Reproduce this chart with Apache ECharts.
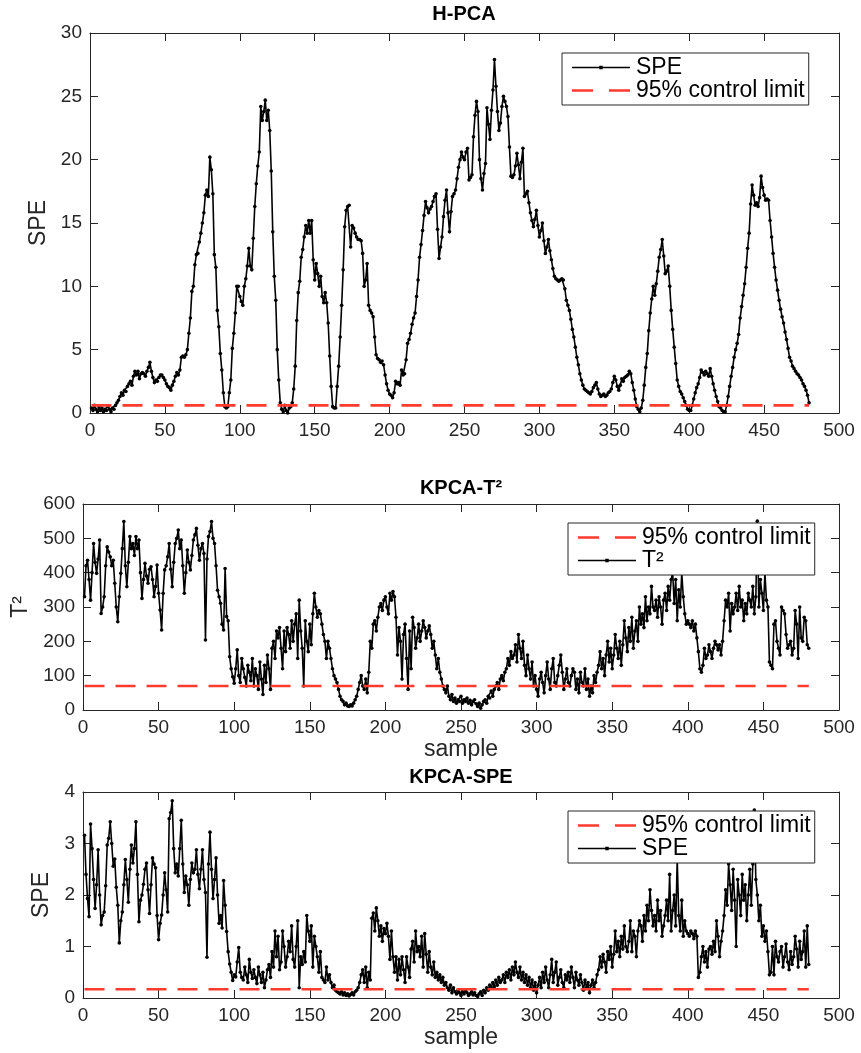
<!DOCTYPE html>
<html><head><meta charset="utf-8">
<script src="https://cdn.jsdelivr.net/npm/echarts@6/dist/echarts.min.js"></script>
<style>html,body{margin:0;padding:0;background:#fff}#c{width:861px;height:1053px}</style>
</head><body><div id="c"></div>
<script>
// H-PCA SPE, samples 1..480
const hpcaSPE = [
0.4,0.2,0.6,0.3,0.1,0.5,0.2,0.4,0.1,0.3,0.2,0.5,0.3,0.1,0.4,0.3,0.6,0.8,1.0,1.3,
1.6,1.4,1.8,1.7,2.1,2.3,2.5,2.2,2.9,3.3,3.0,3.3,2.7,3.1,3.2,3.1,2.9,3.3,3.6,4.0,
3.3,2.8,2.4,2.6,2.5,2.8,3.0,3.0,2.8,2.6,2.3,2.1,2.0,1.8,2.2,2.5,2.9,3.2,3.0,3.4,
4.4,4.5,4.4,4.6,5.0,6.3,7.5,9.6,10.0,11.7,12.5,12.6,13.5,14.2,15.0,15.8,17.2,17.6,17.1,20.2,
19.2,17.3,12.5,11.5,8.1,6.8,4.7,3.4,1.6,0.5,0.4,0.5,1.6,2.6,5.1,6.3,7.9,10.0,10.0,9.2,
8.8,8.5,10.0,10.6,11.6,13.0,11.6,11.3,13.8,16.3,18.1,19.5,20.6,24.2,23.1,23.8,24.7,23.1,23.9,22.3,
19.1,14.3,10.8,8.9,5.0,2.6,0.8,0.3,0.1,0.6,0.2,0.0,0.4,0.5,0.8,1.9,3.7,7.3,9.5,10.4,
12.3,12.9,13.9,14.8,14.2,15.2,14.2,15.2,12.1,10.5,11.8,11.0,10.0,10.8,9.2,8.7,9.5,8.7,7.1,4.5,
2.1,0.5,0.4,0.4,2.1,3.7,6.0,8.5,11.3,14.7,16.0,16.3,16.4,13.1,14.8,14.6,14.2,13.9,13.7,13.7,
13.6,12.6,10.0,10.5,11.8,8.5,8.1,7.9,7.6,6.0,4.6,4.3,4.2,4.0,4.1,3.8,3.0,2.3,1.8,1.5,
1.4,1.2,1.6,2.5,2.3,2.4,2.2,3.4,3.0,3.1,4.2,5.5,5.8,6.3,7.0,7.5,7.9,9.2,10.5,12.3,
13.3,14.4,15.6,16.7,16.2,15.8,16.1,16.3,16.7,17.1,17.3,14.5,12.2,13.1,13.9,15.5,16.8,17.6,15.8,14.3,
15.9,17.1,17.3,17.6,18.5,19.4,20.0,20.6,20.2,20.0,20.6,20.9,18.4,18.6,18.8,21.8,23.5,24.6,23.8,20.0,
18.5,17.6,18.9,19.7,24.1,22.8,21.6,23.9,25.5,27.9,25.8,23.8,22.3,22.9,24.2,25.0,24.6,24.2,23.4,21.0,
18.7,18.6,18.8,19.5,20.5,19.6,18.5,19.8,20.9,17.1,17.3,17.5,16.6,15.8,15.2,14.7,15.3,16.0,14.8,13.9,
14.4,15.0,13.6,12.6,13.1,13.7,12.8,12.1,11.4,10.8,10.6,10.5,10.4,10.5,10.6,10.5,9.8,8.9,8.5,8.1,
7.4,6.6,6.0,5.2,4.4,3.8,3.1,2.6,2.2,1.9,1.8,1.7,1.6,1.5,1.7,2.0,2.2,2.4,1.9,1.5,
1.3,1.4,1.5,1.3,1.4,1.6,1.7,1.9,2.4,2.9,2.6,2.1,1.8,2.2,2.7,2.5,2.8,2.9,3.0,3.3,
3.1,2.4,1.8,1.1,0.5,0.3,0.1,0.4,1.0,2.2,3.6,4.7,6.5,7.9,9.0,10.0,9.3,10.2,11.2,12.3,
12.9,13.7,12.4,11.0,11.2,11.6,10.0,8.1,6.6,5.2,3.9,2.6,2.1,1.7,1.5,1.2,0.9,0.6,0.3,0.2,
0.2,0.6,1.1,1.6,2.0,2.3,2.8,3.4,3.2,3.0,3.3,3.1,2.9,3.5,2.9,2.3,1.8,1.3,0.9,0.5,
0.4,0.2,0.1,0.1,0.6,1.3,2.1,2.9,3.6,4.4,5.0,5.5,6.2,7.5,8.4,9.3,10.2,11.5,13.0,14.2,
16.5,18.0,17.2,16.4,16.6,16.3,17.0,18.7,17.8,17.2,16.8,16.9,16.8,15.2,13.9,12.6,11.5,10.5,9.7,8.9,
8.2,7.6,7.1,6.4,5.8,5.1,4.4,4.1,3.7,3.5,3.3,3.1,3.0,2.8,2.6,2.3,2.1,1.8,1.4,0.8
];
// KPCA T^2, samples 1..480
const kpcaT2 = [
330,420,436,380,320,400,485,430,398,440,495,281,300,330,420,475,460,446,420,436,
369,300,257,330,398,470,549,420,359,430,505,470,485,450,505,470,495,400,325,380,
427,390,369,410,417,380,330,360,422,340,291,233,340,408,420,446,485,410,359,430,
485,500,524,470,495,420,340,400,466,430,408,450,495,510,529,480,436,470,485,456,
204,440,505,520,549,500,485,420,349,330,311,250,233,412,272,260,155,120,97,78,
120,175,100,80,150,120,95,70,130,110,85,150,70,120,100,60,140,90,45,130,
80,160,120,60,180,200,150,230,210,240,180,120,230,170,240,220,180,260,200,250,
280,150,320,230,180,70,260,200,170,250,190,280,340,300,270,290,280,250,220,200,
150,200,180,150,120,100,90,80,60,40,30,25,15,20,12,10,15,12,20,30,
40,60,80,100,70,60,90,50,110,200,180,250,260,230,270,300,310,290,320,330,
300,280,340,320,345,330,270,160,240,200,90,220,250,150,60,230,120,270,240,180,
210,250,200,230,260,240,210,230,245,220,180,200,160,120,150,110,90,70,60,50,
70,40,30,45,25,35,20,30,25,40,20,30,25,35,20,28,15,25,30,18,
10,20,5,15,25,30,20,40,35,55,40,60,70,80,60,90,100,85,110,120,
150,130,170,150,160,190,140,220,180,150,200,130,100,160,120,90,140,70,100,60,
40,90,110,80,50,100,140,90,60,120,150,80,70,100,130,160,110,60,90,120,
80,70,100,120,110,60,90,50,110,80,70,120,60,90,40,70,50,100,80,110,
130,170,120,150,100,160,200,140,180,120,160,220,180,150,200,130,190,260,210,170,
240,200,270,180,230,260,200,300,250,280,240,330,260,300,280,360,300,290,320,270,
330,300,250,320,340,290,360,320,380,400,310,380,260,350,300,400,330,280,250,260,
250,240,260,230,250,210,170,120,110,130,180,150,160,190,170,150,180,200,190,175,
190,160,200,260,320,300,340,230,310,280,300,340,290,360,300,320,260,310,280,340,
320,300,360,280,330,550,300,380,340,290,400,320,300,140,130,120,250,260,200,180,
160,300,290,280,220,180,190,200,160,180,290,250,150,300,210,200,270,260,190,180
];
// KPCA SPE, samples 1..480
const kpcaSPE = [
3.16,2.4,1.93,1.58,3.38,2.9,2.3,1.74,2.2,2.88,2.0,1.42,1.6,1.67,2.18,2.97,3.1,3.42,3.0,2.56,
2.7,2.15,1.8,1.07,1.5,1.67,2.2,2.69,2.3,1.86,2.5,2.97,2.62,2.9,3.42,2.4,1.48,1.9,2.0,2.21,
2.5,2.62,2.1,1.64,2.2,2.72,2.6,2.53,1.6,1.13,1.45,1.61,2.0,2.43,2.1,1.67,3.48,3.6,3.83,2.9,
2.43,2.6,2.37,2.9,3.45,2.6,2.05,2.37,2.2,1.8,2.3,2.62,2.43,2.5,2.88,2.4,2.12,2.5,2.88,2.3,
2.05,0.79,2.6,3.22,2.5,1.93,2.3,2.72,2.0,1.45,1.6,1.36,2.28,1.8,1.29,0.9,0.66,0.5,0.34,0.45,
0.41,0.7,0.98,0.5,0.4,0.35,0.6,0.45,0.3,0.75,0.5,0.38,0.55,0.4,0.28,0.6,0.45,0.3,0.5,0.2,
0.35,0.55,0.65,0.4,0.9,0.6,1.3,0.8,1.2,0.55,0.7,1.3,1.0,0.6,0.8,1.1,0.9,1.4,0.75,0.6,
1.0,1.5,0.2,0.8,0.65,0.9,0.7,1.6,1.3,1.1,1.4,0.6,1.2,1.0,0.8,0.5,0.9,0.4,0.35,0.3,
0.6,0.35,0.45,0.3,0.2,0.25,0.15,0.12,0.1,0.08,0.12,0.06,0.1,0.05,0.08,0.04,0.07,0.1,0.06,0.12,
0.15,0.2,0.3,0.45,0.55,0.3,0.6,0.2,0.5,0.35,1.55,1.65,1.3,1.75,1.5,1.2,1.4,1.1,1.35,1.25,
1.45,1.2,0.75,1.3,0.8,0.5,0.8,0.35,0.75,0.45,0.8,0.55,0.3,0.8,0.6,0.4,0.95,1.1,0.7,1.3,
0.9,1.0,0.8,1.2,0.6,1.25,0.85,0.5,0.9,0.6,0.45,0.7,0.4,0.5,0.35,0.45,0.3,0.4,0.25,0.3,
0.2,0.15,0.25,0.1,0.2,0.12,0.08,0.15,0.1,0.05,0.12,0.08,0.15,0.1,0.05,0.08,0.12,0.06,0.1,0.05,
0.03,0.08,0.12,0.05,0.15,0.1,0.2,0.15,0.25,0.2,0.3,0.22,0.35,0.25,0.4,0.3,0.35,0.45,0.3,0.5,
0.4,0.55,0.35,0.6,0.45,0.7,0.5,0.4,0.6,0.35,0.5,0.3,0.45,0.25,0.4,0.2,0.35,0.15,0.3,0.1,
0.25,0.4,0.2,0.5,0.3,0.6,0.35,0.2,0.45,0.75,0.3,0.5,0.7,0.25,0.4,0.55,0.3,0.2,0.45,0.35,
0.5,0.3,0.6,0.4,0.2,0.5,0.35,0.25,0.45,0.3,0.15,0.35,0.2,0.3,0.1,0.25,0.35,0.2,0.3,0.45,
0.55,0.8,0.6,0.85,0.7,0.5,0.9,0.75,1.0,0.6,0.85,1.3,0.9,1.1,0.8,1.2,0.95,1.4,1.0,0.9,
1.1,1.5,0.9,1.3,1.2,0.8,1.3,1.5,1.4,1.1,1.6,1.3,1.8,1.5,2.1,1.7,1.4,1.6,1.3,1.9,
1.5,1.7,1.2,1.4,1.6,1.9,1.5,2.4,1.3,1.7,2.0,1.4,2.7,1.6,1.3,1.9,1.2,1.5,1.3,1.25,
1.2,1.3,1.25,1.15,1.3,1.2,0.4,0.5,0.8,1.0,0.7,0.9,0.6,0.95,1.0,0.85,1.1,0.9,1.5,1.2,
0.8,1.1,1.3,1.6,2.1,1.8,2.6,2.2,1.7,2.5,1.9,1.0,2.3,2.0,1.6,2.4,1.9,2.2,1.5,2.0,
2.5,1.8,2.6,3.65,2.3,2.0,1.5,1.8,1.2,1.4,1.1,1.3,0.9,0.45,0.5,1.0,0.45,1.1,0.8,0.7,
0.9,1.0,0.6,0.8,1.05,0.7,0.55,0.9,0.65,0.8,1.2,0.95,0.6,1.1,0.75,0.9,1.3,0.6,1.4,0.65
];
const hpcaLimit = 0.6;
const t2Limit = 70;
const speLimit = 0.17;
const limitRange = [1, 480];
const titles = ['H-PCA', 'KPCA-T\u00b2', 'KPCA-SPE'];
const yNames = ['SPE', 'T\u00b2', 'SPE'];
const xName = 'sample';
const limitName = '95% control limit';

const FONT = "'Liberation Sans', Arial, Helvetica, sans-serif";
const AX = '#262626';
const RED = '#ff3b2f';
const grids = [
  {left: 90, top: 33, width: 749, height: 380},
  {left: 83, top: 504, width: 756, height: 206},
  {left: 83, top: 792, width: 756, height: 206}
];
const yCfg = [
  {min: 0, max: 30, interval: 5, gap: 35},
  {min: 0, max: 600, interval: 100, gap: 44},
  {min: 0, max: 4, interval: 1, gap: 24}
];
const xAxes = [], yAxes = [];
grids.forEach((g, i) => {
  const common = {gridIndex: i, type: 'value', min: 0, max: 500, interval: 50,
    axisLine: {show: true, onZero: false, lineStyle: {color: AX, width: 1}},
    axisTick: {show: true, inside: true, length: 8, lineStyle: {color: AX, width: 1}},
    splitLine: {show: false}};
  xAxes.push(Object.assign({}, common, {position: 'bottom',
    name: i > 0 ? xName : '', nameLocation: 'middle', nameGap: 27,
    nameTextStyle: {fontFamily: FONT, fontSize: 23, color: AX},
    axisLabel: {fontFamily: FONT, fontSize: 19, color: AX, margin: 8}}));
  xAxes.push(Object.assign({}, common, {position: 'top', axisLabel: {show: false}}));
  const yc = yCfg[i];
  const ycommon = {gridIndex: i, type: 'value', min: yc.min, max: yc.max, interval: yc.interval,
    axisLine: {show: true, onZero: false, lineStyle: {color: AX, width: 1}},
    axisTick: {show: true, inside: true, length: 8, lineStyle: {color: AX, width: 1}},
    splitLine: {show: false}};
  yAxes.push(Object.assign({}, ycommon, {position: 'left',
    name: yNames[i], nameLocation: 'middle', nameGap: yc.gap, nameRotate: 90,
    nameTextStyle: {fontFamily: FONT, fontSize: 23, color: AX},
    axisLabel: {fontFamily: FONT, fontSize: 19, color: AX, margin: 8}}));
  yAxes.push(Object.assign({}, ycommon, {position: 'right', axisLabel: {show: false}}));
});

function dataSeries(name, arr, gi) {
  return {type: 'line', name: name, xAxisIndex: gi * 2, yAxisIndex: gi * 2,
    data: arr.map((v, k) => [k + 1, v]),
    symbol: 'circle', symbolSize: 3.6, showSymbol: true, animation: false,
    itemStyle: {color: '#000', borderWidth: 0},
    lineStyle: {color: '#000', width: 1.6}, z: 3, emphasis: {disabled: true}};
}
function limitSeries(val, gi) {
  return {type: 'line', name: limitName, xAxisIndex: gi * 2, yAxisIndex: gi * 2,
    data: [[limitRange[0], val], [limitRange[1], val]],
    symbol: 'none', animation: false,
    itemStyle: {color: RED, borderWidth: 0},
    lineStyle: {color: RED, width: 2.6, type: [20, 11]}, z: 4, emphasis: {disabled: true}};
}
const ICON_LINE = 'path://M0,4.3L58,4.3L58,5.7L0,5.7Z M27.3,3.3L30.7,3.3L30.7,6.7L27.3,6.7Z';
const ICON_DASH = 'path://M0,3.7L20,3.7L20,6.3L0,6.3Z M35,3.7L55,3.7L55,6.3L35,6.3Z';
function legend(items, left, top) {
  return {show: true, orient: 'vertical', left: left, top: top,
    backgroundColor: '#fff', borderColor: AX, borderWidth: 1,
    padding: [3, 4, 3, 10], itemGap: 0, itemWidth: 58, itemHeight: 10,
    itemStyle: {borderWidth: 0}, selectedMode: false,
    textStyle: {fontFamily: FONT, fontSize: 23, color: '#000', padding: [0, 0, 0, 1]},
    data: items.map(n => ({name: n, icon: n === limitName ? ICON_DASH : ICON_LINE})), z: 10};
}

const option = {
  backgroundColor: '#fff',
  animation: false,
  grid: grids.map(g => Object.assign({containLabel: false}, g)),
  xAxis: xAxes,
  yAxis: yAxes,
  legend: [
    legend(['SPE', limitName], 562, 53),
    legend([limitName, 'T\u00b2'], 568, 523),
    legend([limitName, 'SPE'], 568, 811)
  ],
  graphic: [
    {type: 'text', x: 464, y: 14, style: {text: titles[0], font: "bold 20px " + FONT, fill: '#000', align: 'center', verticalAlign: 'middle'}},
    {type: 'text', x: 461, y: 488, style: {text: titles[1], font: "bold 20px " + FONT, fill: '#000', align: 'center', verticalAlign: 'middle'}},
    {type: 'text', x: 461, y: 777, style: {text: titles[2], font: "bold 20px " + FONT, fill: '#000', align: 'center', verticalAlign: 'middle'}}
  ],
  series: [
    dataSeries('SPE', hpcaSPE, 0), limitSeries(hpcaLimit, 0),
    limitSeries(t2Limit, 1), dataSeries('T\u00b2', kpcaT2, 1),
    limitSeries(speLimit, 2), dataSeries('SPE', kpcaSPE, 2)
  ]
};
const chart = echarts.init(document.getElementById('c'), null, {renderer: 'canvas'});
chart.setOption(option);
</script></body></html>
